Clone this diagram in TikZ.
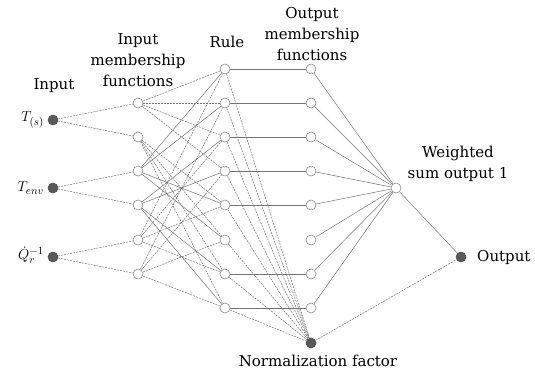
\documentclass[tikz,border=0pt]{standalone}
\usepackage{fontspec}
\setmainfont{DejaVu Serif}
\usetikzlibrary{calc,backgrounds}
\tikzset{
  unit/.style={
    circle,
    draw=black!45,
    fill=white,
    line width=0.6pt,
    minimum size=10pt,
    inner sep=0pt
  },
  fixed/.style={
    circle,
    draw=black!70,
    fill=black!65,
    line width=0.6pt,
    minimum size=10pt,
    inner sep=0pt
  },
  link/.style={
    black!55,
    line width=0.5pt
  },
  dlink/.style={
    link,
    dash pattern=on 2pt off 1pt
  },
  caption/.style={
    align=center,
    inner sep=0pt,
    font=\fontsize{15}{21}\selectfont
  }
}

\begin{document}
\begin{tikzpicture}[x=1pt,y=-1pt]
    \useasboundingbox (0,0) rectangle (535,381);

    % 入力
    \node[fixed] (in1) at (53,120) {};
    \node[fixed] (in2) at (53,188) {};
    \node[fixed] (in3) at (53,257) {};
    \node[caption,anchor=east] at (44,120) {$T_{(s)}$};
    \node[caption,anchor=east] at (44,188) {$T_{env}$};
    \node[caption,anchor=east] at (44,255) {$\dot{Q}_r^{-1}$};

    % 入力メンバーシップ関数
    \foreach \i/\y in {1/103,2/137,3/171,4/205,5/240,6/274}
        \node[unit] (mf\i) at (138,\y) {};

    % ルールと出力メンバーシップ関数
    \foreach \i/\y in {1/69,2/103,3/137,4/171,5/205,6/240,7/274,8/308}{
        \node[unit] (rule\i) at (225,\y) {};
        \node[unit] (omf\i) at (311,\y) {};
    }

    \node[fixed] (norm) at (311,343) {};
    \node[unit] (wsum) at (396,188) {};
    \node[fixed] (out) at (461,257) {};

    % 結線
    \begin{pgfonlayer}{background}
    \draw[dlink] (in1) -- (mf1);
    \draw[dlink] (in1) -- (mf2);
    \draw[dlink] (in2) -- (mf3);
    \draw[dlink] (in2) -- (mf4);
    \draw[dlink] (in3) -- (mf5);
    \draw[dlink] (in3) -- (mf6);

    \foreach \r in {0,...,7}{
        \pgfmathtruncatemacro{\ra}{int(\r/4)+1}
        \pgfmathtruncatemacro{\rb}{mod(int(\r/2),2)+3}
        \pgfmathtruncatemacro{\rc}{mod(\r,2)+5}
        \pgfmathtruncatemacro{\rn}{\r+1}
        \draw[dlink] (mf\ra) -- (rule\rn);
        \draw[link] (mf\rb) -- (rule\rn);
        \draw[dlink] (mf\rc) -- (rule\rn);
    }

    \foreach \i in {1,2,3,4,5,7,8}
        \draw[link] (rule\i) -- (omf\i);
    \foreach \i in {1,...,8}{
        \draw[dlink] (rule\i) -- (norm);
        \draw[link] (omf\i) -- (wsum);
    }

    \draw[link] (wsum) -- (out);
    \draw[dlink] (norm) -- (out);
    \end{pgfonlayer}

    % 注釈
    \node[caption] at (54,86) {Input};
    \node[caption] at (138,60) {Input\\membership\\functions};
    \node[caption] at (227,42) {Rule};
    \node[caption] at (312,34) {Output\\membership\\functions};
    \node[caption] at (458,164) {Weighted\\sum output 1};
    \node[caption,anchor=west] at (477,257) {Output};
    \node[caption] at (318,361) {Normalization factor};
\end{tikzpicture}
\end{document}
